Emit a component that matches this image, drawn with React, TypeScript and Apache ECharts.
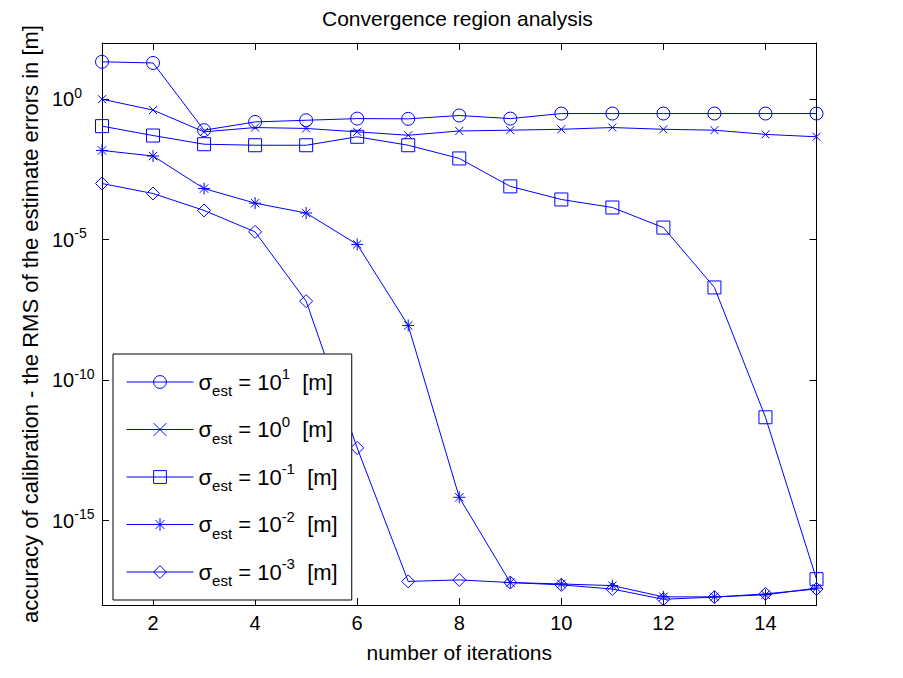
import React, { useEffect, useRef } from 'react';
import * as echarts from 'echarts';

// ---- data ----
const iterations = [1, 2, 3, 4, 5, 6, 7, 8, 9, 10, 11, 12, 13, 14, 15];
const sigmaExponents = ['1', '0', '-1', '-2', '-3'];

// RMS of the estimate errors [m] per iteration, one array per sigma_est
const rmsSigma1e1 = [21.4, 19.5, 0.079, 0.155, 0.178, 0.204, 0.2, 0.263, 0.204, 0.309, 0.309, 0.309, 0.309, 0.309, 0.309];
const rmsSigma1e0 = [1.0, 0.41, 0.069, 0.098, 0.091, 0.069, 0.052, 0.074, 0.079, 0.085, 0.098, 0.085, 0.079, 0.056, 0.046];
const rmsSigma1em1 = [0.11, 0.051, 0.025, 0.023, 0.023, 0.046, 0.023, 7.8e-3, 7.9e-4, 2.7e-4, 1.4e-4, 2.7e-5, 2.0e-7, 4.8e-12, 8.3e-18];
const rmsSigma1em2 = [1.5e-2, 9.5e-3, 6.6e-4, 2.0e-4, 8.9e-5, 6.8e-6, 8.9e-9, 6.8e-15, 6.3e-18, 5.6e-18, 4.9e-18, 1.95e-18, 1.95e-18, 2.3e-18, 4.0e-18];
const rmsSigma1em3 = [1.0e-3, 4.4e-4, 1.1e-4, 1.9e-5, 6.5e-8, 3.9e-13, 6.9e-18, 7.8e-18, 6.3e-18, 5.2e-18, 3.7e-18, 1.6e-18, 1.9e-18, 2.5e-18, 3.7e-18];

const xTickValues = [2, 4, 6, 8, 10, 12, 14];
const yTickExponents = [-15, -10, -5, 0];

const BLUE = '#0000ff';
const FONT = '"Liberation Sans", Arial, Helvetica, sans-serif';

const SYM_CIRCLE = 'path://M1,0 A1,1 0 1,1 -1,0 A1,1 0 1,1 1,0 Z';
const SYM_X = 'path://M-1,-1 L1,1 M-1,1 L1,-1';
const SYM_SQUARE = 'path://M-1,-1 L1,-1 L1,1 L-1,1 Z';
const SYM_STAR = 'path://M0,-1 L0,1 M-1,0 L1,0 M-0.7,-0.7 L0.7,0.7 M-0.7,0.7 L0.7,-0.7';
const SYM_DIAMOND = 'path://M0,-1 L1,0 L0,1 L-1,0 Z';

const seriesValues = [rmsSigma1e1, rmsSigma1e0, rmsSigma1em1, rmsSigma1em2, rmsSigma1em3];
const seriesSymbols = [SYM_CIRCLE, SYM_X, SYM_SQUARE, SYM_STAR, SYM_DIAMOND];
const seriesSymbolSizes = [13, 8, 13, 12, 13];

const seriesNames = sigmaExponents.map((e) => `σest = 10^${e} [m]`);

export default function App() {
  const ref = useRef<HTMLDivElement>(null);

  useEffect(() => {
    if (!ref.current) return;
    const chart = echarts.init(ref.current, null, { renderer: 'svg' });

    const axisLineStyle = { color: '#000', width: 1 };

    const option = {
      animation: false,
      backgroundColor: '#fff',
      title: {
        text: 'Convergence region analysis',
        left: 322,
        top: 8,
        padding: 0,
        textStyle: { fontFamily: FONT, fontSize: 21, fontWeight: 'normal', color: '#000' },
      },
      grid: { left: 102, right: 86.5, top: 43, bottom: 73, containLabel: false, outerBoundsMode: 'none' },
      legend: {
        orient: 'vertical',
        left: 113,
        top: 354,
        padding: [12, 14, 12, 13],
        itemWidth: 67,
        itemHeight: 16,
        itemGap: 15.5,
        backgroundColor: '#fff',
        borderColor: '#000',
        borderWidth: 1,
        borderRadius: 0,
        selectedMode: false,
        itemStyle: { borderWidth: 1 },
        lineStyle: { width: 1 },
        data: seriesNames.map((name) => ({
          name,
          itemStyle: { color: 'none', borderColor: BLUE, borderWidth: 1 },
          lineStyle: { color: BLUE, width: 1 },
        })),
        formatter: (name: string) => {
          const i = seriesNames.indexOf(name);
          return `{n|σ}{sub|est}{n| = 10}{sup|${sigmaExponents[i]}}{n|  [m]}`;
        },
        textStyle: {
          fontFamily: FONT,
          fontSize: 22,
          color: '#000',
          rich: {
            n: { fontFamily: FONT, fontSize: 22, color: '#000', lineHeight: 32, verticalAlign: 'middle' },
            sub: { fontFamily: FONT, fontSize: 15, color: '#000', lineHeight: 11, verticalAlign: 'bottom' },
            sup: { fontFamily: FONT, fontSize: 15, color: '#000', lineHeight: 15, verticalAlign: 'top' },
          },
        },
      },
      xAxis: [
        {
          type: 'value',
          position: 'bottom',
          min: 1,
          max: 15,
          name: 'number of iterations',
          nameLocation: 'middle',
          nameGap: 37,
          nameTextStyle: { fontFamily: FONT, fontSize: 21, color: '#000' },
          axisLine: { show: true, onZero: false, lineStyle: axisLineStyle },
          axisTick: { show: true, inside: true, length: 7, customValues: xTickValues, lineStyle: axisLineStyle },
          axisLabel: { customValues: xTickValues, margin: 8, fontFamily: FONT, fontSize: 20, color: '#000' },
          splitLine: { show: false },
        },
        {
          type: 'value',
          position: 'top',
          min: 1,
          max: 15,
          axisLine: { show: true, onZero: false, lineStyle: axisLineStyle },
          axisTick: { show: true, inside: true, length: 7, customValues: xTickValues, lineStyle: axisLineStyle },
          axisLabel: { show: false },
          splitLine: { show: false },
        },
      ],
      yAxis: [
        {
          type: 'value',
          position: 'left',
          min: -18,
          max: 2,
          name: 'accuracy of calibration - the RMS of the estimate errors in [m]',
          nameLocation: 'middle',
          nameGap: 59,
          nameTextStyle: { fontFamily: FONT, fontSize: 22, color: '#000' },
          axisLine: { show: true, onZero: false, lineStyle: axisLineStyle },
          axisTick: { show: true, inside: true, length: 7, customValues: yTickExponents, lineStyle: axisLineStyle },
          axisLabel: {
            customValues: yTickExponents,
            margin: 50,
            align: 'left',
            formatter: (v: number) => `{b|10}{s|${v}}`,
            rich: {
              b: { fontFamily: FONT, fontSize: 20, color: '#000', lineHeight: 27, verticalAlign: 'middle' },
              s: { fontFamily: FONT, fontSize: 14, color: '#000', lineHeight: 14, verticalAlign: 'top' },
            },
          },
          splitLine: { show: false },
        },
        {
          type: 'value',
          position: 'right',
          min: -18,
          max: 2,
          axisLine: { show: true, onZero: false, lineStyle: axisLineStyle },
          axisTick: { show: true, inside: true, length: 7, customValues: yTickExponents, lineStyle: axisLineStyle },
          axisLabel: { show: false },
          splitLine: { show: false },
        },
      ],
      series: seriesValues.map((vals, k) => ({
        name: seriesNames[k],
        type: 'line',
        xAxisIndex: 0,
        yAxisIndex: 0,
        data: iterations.map((x, i) => [x, Math.log10(vals[i])]),
        symbol: seriesSymbols[k],
        symbolSize: seriesSymbolSizes[k],
        showAllSymbol: true,
        itemStyle: { color: 'none', borderColor: BLUE, borderWidth: 1 },
        lineStyle: { color: BLUE, width: 1 },
        emphasis: { disabled: true },
        z: 2,
      })),
    };

    chart.setOption(option as any);
    return () => chart.dispose();
  }, []);

  return (
    <div
      ref={ref}
      style={{ position: 'fixed', left: 0, top: 0, width: 903, height: 678, background: '#fff' }}
    />
  );
}
